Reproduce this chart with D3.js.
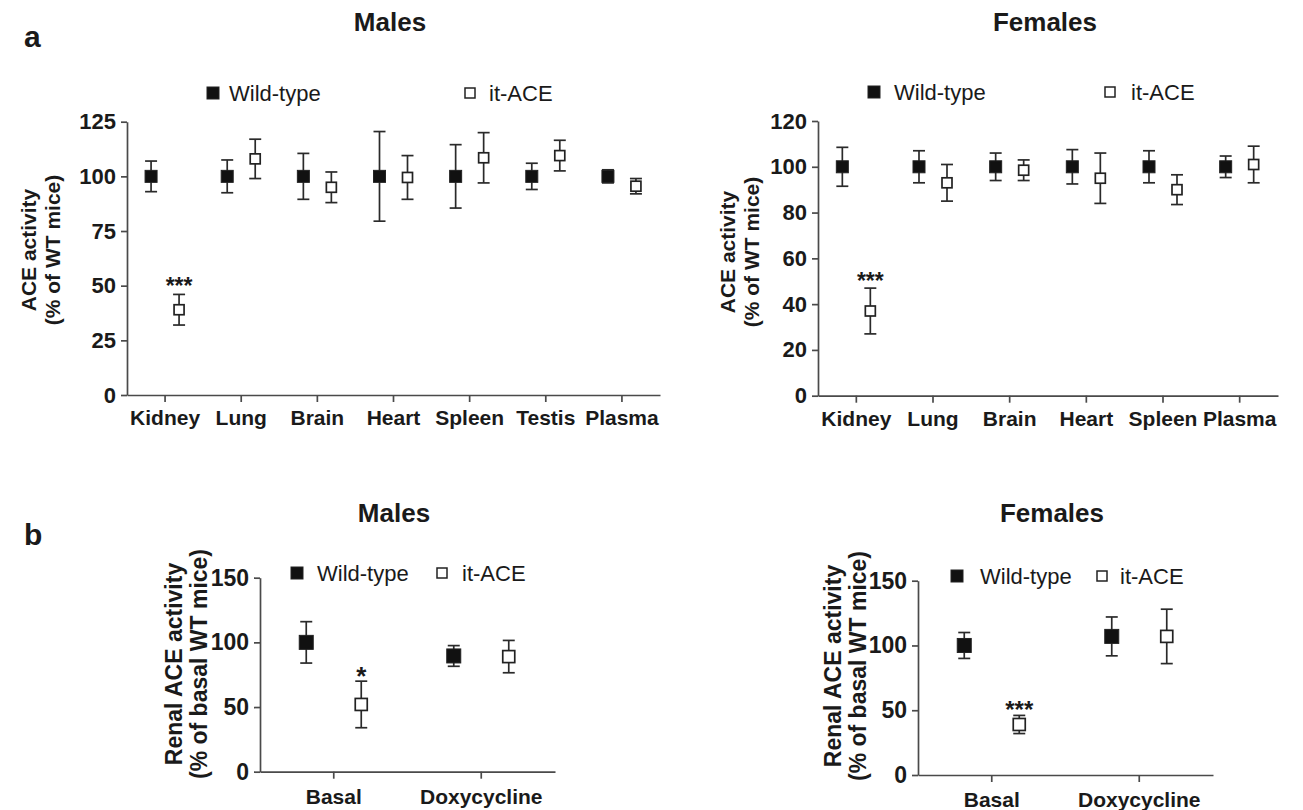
<!DOCTYPE html>
<meta charset="utf-8">
<style>
  body { margin: 0; background: #fff; }
  svg { font-family: "Liberation Sans", Arial, sans-serif; }
  .axis path, .axis line { stroke: #4a4a4a; stroke-width: 1.7; }
  .axis text { fill: #1a1a1a; font-weight: bold; }
</style>
<body>
<script src="https://d3js.org/d3.v7.min.js"></script>
<script>

// ---- data ----
var tissuesMale   = ["Kidney", "Lung", "Brain", "Heart", "Spleen", "Testis", "Plasma"];
var wtMaleMean    = [100, 100, 100, 100, 100, 100, 100];
var wtMaleErr     = [7, 7.5, 10.5, 20.5, 14.5, 6, 3];
var itMaleMean    = [39, 108, 95, 99.5, 108.5, 109.5, 95.5];
var itMaleErr     = [7, 9, 7, 10, 11.5, 7, 3.5];
var sigMale       = ["***", "", "", "", "", "", ""];

var tissuesFemale = ["Kidney", "Lung", "Brain", "Heart", "Spleen", "Plasma"];
var wtFemaleMean  = [100, 100, 100, 100, 100, 100];
var wtFemaleErr   = [8.5, 7, 6, 7.5, 7, 4.7];
var itFemaleMean  = [37, 93, 98.5, 95, 90, 101];
var itFemaleErr   = [10, 8, 4.5, 11, 6.5, 8];
var sigFemale     = ["***", "", "", "", "", ""];

var conditions       = ["Basal", "Doxycycline"];
var wtMaleRenalMean  = [100, 89.5];
var wtMaleRenalErr   = [16, 8];
var itMaleRenalMean  = [52, 89];
var itMaleRenalErr   = [18, 12.5];
var sigMaleRenal     = ["*", ""];

var wtFemaleRenalMean = [100, 107];
var wtFemaleRenalErr  = [10, 15];
var itFemaleRenalMean = [39, 107];
var itFemaleRenalErr  = [7, 21];
var sigFemaleRenal    = ["***", ""];

var ticksMaleA   = [0, 25, 50, 75, 100, 125];
var ticksFemaleA = [0, 20, 40, 60, 80, 100, 120];
var ticksB       = [0, 50, 100, 150];

var seriesNames = ["Wild-type", "it-ACE"];

// ---- drawing ----
var svg = d3.select("body").append("svg")
    .attr("width", 1303)
    .attr("height", 810);

function drawPanel(p) {
    var x = d3.scaleBand().domain(p.categories).range([p.x0, p.x1]);
    var y = d3.scaleLinear().domain([0, p.ymax]).range([p.y0, p.y1]);
    var off = d3.scalePoint().domain(seriesNames).range([-p.offset, p.offset]);

    var g = svg.append("g");

    g.append("g")
        .attr("class", "axis")
        .attr("transform", "translate(" + p.x0 + ",0)")
        .call(d3.axisLeft(y).tickValues(p.ticks).tickSize(6).tickSizeOuter(0).tickPadding(5))
        .selectAll("text").style("font-size", p.tickFont + "px");

    g.append("g")
        .attr("class", "axis")
        .attr("transform", "translate(0," + p.y0 + ")")
        .call(d3.axisBottom(x).tickSize(7).tickSizeOuter(0).tickPadding(p.catPad))
        .selectAll("text").style("font-size", p.catFont + "px");

    var series = [
        {name: "Wild-type", mean: p.wtMean, err: p.wtErr, filled: true},
        {name: "it-ACE", mean: p.itMean, err: p.itErr, filled: false}
    ];

    series.forEach(function (s) {
        var pts = p.categories.map(function (c, i) {
            return {cat: c, mean: s.mean[i], err: s.err[i]};
        });
        var cx = function (d) { return x(d.cat) + x.bandwidth() / 2 + off(s.name); };

        var eg = g.append("g").attr("stroke", "#2a2a2a").attr("stroke-width", 1.7);
        eg.selectAll(".stem").data(pts).enter().append("line")
            .attr("x1", cx).attr("x2", cx)
            .attr("y1", function (d) { return y(d.mean + d.err); })
            .attr("y2", function (d) { return y(d.mean - d.err); });
        [1, -1].forEach(function (sg) {
            eg.selectAll(".cap" + sg).data(pts).enter().append("line")
                .attr("x1", function (d) { return cx(d) - p.cap; })
                .attr("x2", function (d) { return cx(d) + p.cap; })
                .attr("y1", function (d) { return y(d.mean + sg * d.err); })
                .attr("y2", function (d) { return y(d.mean + sg * d.err); });
        });

        var sz = s.filled ? p.size : p.size - 2;
        g.selectAll(null).data(pts).enter().append("rect")
            .attr("x", function (d) { return cx(d) - sz / 2; })
            .attr("y", function (d) { return y(d.mean) - sz / 2; })
            .attr("width", sz)
            .attr("height", sz)
            .attr("fill", s.filled ? "#111" : "#fff")
            .attr("stroke", "#222")
            .attr("stroke-width", s.filled ? 1 : 1.7);

        if (!s.filled) {
            g.selectAll(null).data(pts.map(function (d, i) { return {d: d, s: p.sig[i]}; })
                    .filter(function (o) { return o.s; }))
                .enter().append("text")
                .attr("x", function (o) { return cx(o.d); })
                .attr("y", function (o) { return y(o.d.mean + o.d.err) + p.starDy; })
                .attr("text-anchor", "middle")
                .attr("font-size", p.starFont)
                .attr("font-weight", "bold")
                .attr("fill", "#1a1a1a")
                .text(function (o) { return o.s; });
        }
    });

    // y-axis title (two lines)
    var yt = g.append("text")
        .attr("transform", "translate(" + p.ytx + "," + p.yty + ") rotate(-90)")
        .attr("text-anchor", "middle")
        .attr("font-weight", "bold")
        .attr("font-size", p.ytFont)
        .attr("fill", "#1a1a1a");
    yt.append("tspan").attr("x", 0).attr("y", 0).text(p.ytitle[0]);
    yt.append("tspan").attr("x", 0).attr("y", p.ytGap).text(p.ytitle[1]);

    // title
    g.append("text")
        .attr("x", p.titleX).attr("y", p.titleY)
        .attr("text-anchor", "middle")
        .attr("font-weight", "bold")
        .attr("font-size", 26)
        .attr("fill", "#1a1a1a")
        .text(p.title);

    // legend
    p.legend.forEach(function (L, i) {
        var ls = i === 0 ? 12 : 10;
        g.append("rect")
            .attr("x", L[0] - ls / 2).attr("y", L[1] - ls / 2)
            .attr("width", ls).attr("height", ls)
            .attr("fill", i === 0 ? "#111" : "#fff")
            .attr("stroke", "#222")
            .attr("stroke-width", i === 0 ? 1 : 1.5);
        g.append("text")
            .attr("x", L[2]).attr("y", L[1] + 8)
            .attr("font-size", 22)
            .attr("fill", "#1a1a1a")
            .text(seriesNames[i]);
    });
}

drawPanel({
    categories: tissuesMale, wtMean: wtMaleMean, wtErr: wtMaleErr,
    itMean: itMaleMean, itErr: itMaleErr, sig: sigMale,
    x0: 127, x1: 660, y0: 395, y1: 121.7, ymax: 125, ticks: ticksMaleA,
    offset: 14, cap: 6, size: 12, tickFont: 22, catFont: 21, catPad: 8,
    starFont: 23, starDy: 0,
    ytitle: ["ACE activity", "(% of WT mice)"], ytx: 36, yty: 250, ytFont: 21, ytGap: 24,
    title: "Males", titleX: 390, titleY: 31,
    legend: [[213, 93, 229], [470, 93, 489]]
});

drawPanel({
    categories: tissuesFemale, wtMean: wtFemaleMean, wtErr: wtFemaleErr,
    itMean: itFemaleMean, itErr: itFemaleErr, sig: sigFemale,
    x0: 818, x1: 1278, y0: 395.7, y1: 121, ymax: 120, ticks: ticksFemaleA,
    offset: 14, cap: 6, size: 12, tickFont: 22, catFont: 21, catPad: 8,
    starFont: 23, starDy: 1,
    ytitle: ["ACE activity", "(% of WT mice)"], ytx: 735, yty: 252, ytFont: 21, ytGap: 24,
    title: "Females", titleX: 1045, titleY: 31,
    legend: [[874, 92, 894], [1110, 92, 1131]]
});

drawPanel({
    categories: conditions, wtMean: wtMaleRenalMean, wtErr: wtMaleRenalErr,
    itMean: itMaleRenalMean, itErr: itMaleRenalErr, sig: sigMaleRenal,
    x0: 260, x1: 555, y0: 771.7, y1: 577.7, ymax: 150, ticks: ticksB,
    offset: 27.5, cap: 6, size: 14, tickFont: 23, catFont: 21, catPad: 10,
    starFont: 26, starDy: 4,
    ytitle: ["Renal ACE activity", "(% of basal WT mice)"], ytx: 182, yty: 664, ytFont: 23, ytGap: 25,
    title: "Males", titleX: 394, titleY: 522,
    legend: [[297, 573, 317], [442, 573, 462]]
});

drawPanel({
    categories: conditions, wtMean: wtFemaleRenalMean, wtErr: wtFemaleRenalErr,
    itMean: itFemaleRenalMean, itErr: itFemaleRenalErr, sig: sigFemaleRenal,
    x0: 918, x1: 1213, y0: 775, y1: 580.7, ymax: 150, ticks: ticksB,
    offset: 27.5, cap: 6, size: 14, tickFont: 23, catFont: 21, catPad: 10,
    starFont: 24, starDy: 3,
    ytitle: ["Renal ACE activity", "(% of basal WT mice)"], ytx: 841, yty: 666, ytFont: 23, ytGap: 25,
    title: "Females", titleX: 1052, titleY: 522,
    legend: [[957, 576, 980], [1102, 576, 1120]]
});

// panel letters
svg.append("text").attr("x", 24).attr("y", 47)
    .attr("font-size", 30).attr("font-weight", "bold").attr("fill", "#1a1a1a").text("a");
svg.append("text").attr("x", 24).attr("y", 545)
    .attr("font-size", 30).attr("font-weight", "bold").attr("fill", "#1a1a1a").text("b");

</script>
</body>
